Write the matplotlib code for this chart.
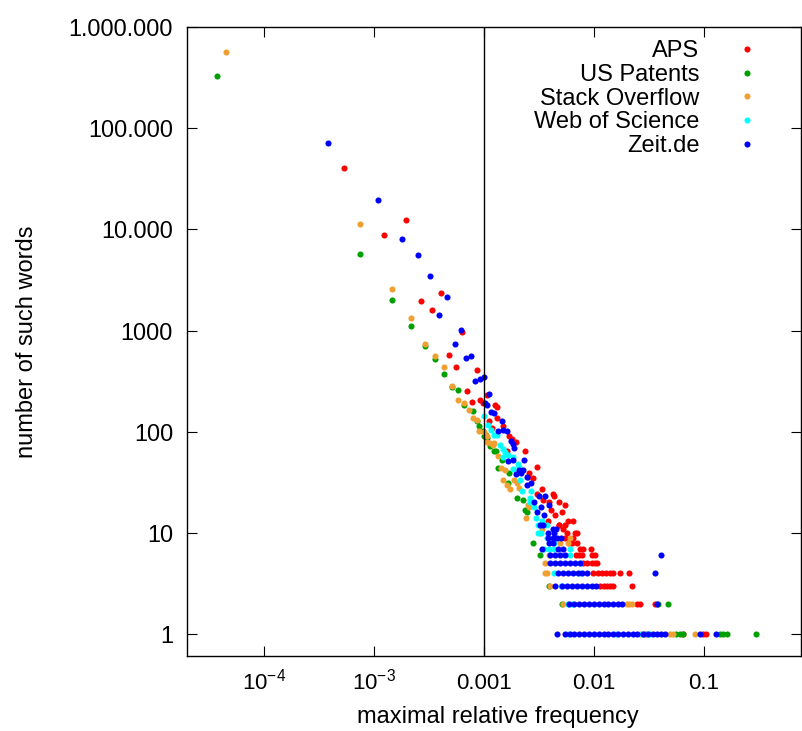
import matplotlib
matplotlib.use('Agg')
import matplotlib.pyplot as plt
from matplotlib.ticker import FixedLocator, FixedFormatter, NullLocator

plt.rcParams['font.family'] = ['Liberation Sans', 'DejaVu Sans']
plt.rcParams['mathtext.fontset'] = 'custom'
plt.rcParams['mathtext.rm'] = 'Liberation Sans'
plt.rcParams['mathtext.it'] = 'Liberation Sans:italic'

# word counts above ~10: single (frequency, count) points
aps_freq = [5.3e-5, 1.24e-4, 1.94e-4, 2.66e-4, 3.37e-4, 4.07e-4, 4.85e-4, 5.59e-4,
            6.35e-4, 7.06e-4, 7.75e-4, 8.55e-4, 9.23e-4, 9.7e-4, 1.07e-3, 1.12e-3,
            1.19e-3, 1.26e-3, 1.30e-3, 1.32e-3, 1.48e-3, 1.62e-3, 1.68e-3, 1.80e-3,
            1.95e-3, 2.37e-3, 2.53e-3, 2.58e-3, 2.81e-3, 3.01e-3, 3.05e-3, 3.36e-3,
            3.45e-3, 3.88e-3, 4.10e-3, 4.26e-3, 4.36e-3, 4.42e-3, 4.77e-3, 5.41e-3,
            5.11e-3, 3.80e-3, 4.84e-3, 5.81e-3, 6.40e-3]
aps_count = [40600, 8830, 12500, 1980, 1590, 2330, 574, 435,
             968, 254, 198, 406, 204, 194, 230, 128,
             109, 182, 174, 137, 115, 65, 90, 84,
             79, 64, 36, 39, 35, 45, 24, 27,
             21, 20, 17, 24, 23, 15, 20, 19,
             16, 13, 12, 13, 13]

pat_freq = [3.72e-6, 7.5e-5, 1.46e-4, 2.18e-4, 2.89e-4, 3.62e-4, 4.36e-4, 5.07e-4,
            5.79e-4, 6.58e-4, 7.9e-4, 8.6e-4, 9.1e-4, 9.73e-4, 1.0e-3, 1.05e-3,
            1.07e-3, 1.13e-3, 1.23e-3, 1.29e-3, 1.35e-3, 1.47e-3, 1.64e-3, 1.69e-3,
            1.98e-3, 2.27e-3, 2.34e-3, 2.45e-3]
pat_count = [327000, 5690, 2010, 1105, 706, 523, 372, 277,
             258, 182, 160, 127, 114, 101, 90, 92,
             87, 72, 65, 65, 44, 52, 31, 39,
             22, 21, 17, 16]

so_freq = [4.54e-6, 7.5e-5, 1.47e-4, 2.18e-4, 2.89e-4, 3.62e-4, 4.36e-4, 5.07e-4,
           5.83e-4, 6.58e-4, 7.3e-4, 7.9e-4, 8.6e-4, 9.1e-4, 9.9e-4, 1.06e-3,
           1.07e-3, 1.13e-3, 1.20e-3, 1.23e-3, 1.35e-3, 1.42e-3, 1.50e-3, 1.55e-3,
           1.63e-3, 1.72e-3, 1.86e-3, 1.98e-3, 2.09e-3, 2.41e-3, 2.53e-3, 2.58e-3]
so_count = [568000, 11300, 2580, 1327, 741, 556, 432, 282,
            207, 194, 165, 138, 132, 102, 100, 90,
            80, 77, 74, 78, 58, 44, 33, 42,
            30, 27, 33, 31, 28, 14, 19, 18]

wos_freq = [1.0e-3, 1.09e-3, 1.16e-3, 1.23e-3, 1.32e-3, 1.39e-3, 1.48e-3, 1.55e-3,
            1.50e-3, 1.64e-3, 1.82e-3, 2.02e-3, 1.84e-3, 2.08e-3, 2.14e-3, 2.20e-3,
            2.67e-3, 2.60e-3, 2.63e-3, 2.83e-3, 2.95e-3, 3.35e-3, 3.77e-3, 3.12e-3]
wos_count = [143, 117, 104, 93, 92, 74, 68, 63,
             56, 59, 56, 48, 43, 45, 33, 26,
             26, 22, 20, 18, 14, 13, 12, 10]

zeit_freq = [3.82e-5, 1.09e-4, 1.80e-4, 2.51e-4, 3.23e-4, 3.92e-4, 4.61e-4, 5.43e-4,
             6.18e-4, 6.9e-4, 7.6e-4, 8.37e-4, 9.12e-4, 9.9e-4, 1.03e-3, 1.06e-3,
             1.10e-3, 1.16e-3, 1.24e-3, 1.45e-3, 1.35e-3, 1.49e-3, 1.61e-3, 1.75e-3,
             1.84e-3, 1.89e-3, 1.66e-3, 1.83e-3, 2.31e-3, 2.09e-3, 2.18e-3, 2.26e-3,
             1.95e-3, 2.47e-3, 2.67e-3, 2.47e-3, 2.86e-3, 3.05e-3, 3.18e-3, 3.30e-3,
             3.52e-3, 3.58e-3, 3.90e-3, 3.20e-3, 3.45e-3, 4.26e-3, 4.49e-3]
zeit_count = [71100, 19300, 8050, 5600, 3425, 1420, 2150, 734,
              1009, 535, 565, 317, 335, 345, 191, 182,
              234, 158, 152, 129, 102, 104, 102, 81,
              76, 69, 51, 52, 52, 42, 39, 42,
              38, 36, 31, 30, 20, 16, 23, 18,
              15, 23, 19, 12, 12, 11, 11]

# small word counts: count -> frequencies that share it
aps_rows = {1: [0.029, 0.064, 0.097, 0.105],
            2: [0.0245, 0.026, 0.036],
            3: [0.0113, 0.0122, 0.013, 0.014, 0.0148, 0.022],
            4: [0.0098, 0.0108, 0.0118, 0.0128, 0.014, 0.0148, 0.0172, 0.021],
            5: [0.0079, 0.0087, 0.0095, 0.0103, 0.0106],
            6: [0.0069, 0.0073, 0.0077, 0.0095, 0.0102],
            7: [0.0074, 0.0079, 0.0094],
            8: [0.0059, 0.0063, 0.0070],
            9: [0.0055, 0.0065],
            10: [0.0057, 0.0067, 0.0070],
            11: [0.0052],
            12: [0.0048, 0.0055]}
pat_rows = {1: [0.056, 0.060, 0.065, 0.14, 0.15, 0.16, 0.295],
            2: [0.0051, 0.038, 0.047],
            3: [0.0039],
            6: [0.0032],
            8: [0.0028]}
so_rows = {1: [0.026, 0.049, 0.052, 0.083],
           2: [0.0052, 0.020, 0.021, 0.022],
           3: [0.0040],
           4: [0.0036, 0.0037],
           5: [0.0036],
           6: [0.0039],
           8: [0.0049, 0.0058],
           9: [0.0060],
           10: [0.0032],
           11: [0.0034]}
wos_rows = {1: [0.0058, 0.016, 0.027, 0.030, 0.032],
            2: [0.0058, 0.0063],
            3: [0.0050],
            4: [0.0043, 0.0075],
            5: [0.0074],
            6: [0.0060],
            7: [0.0035, 0.0039, 0.0043, 0.0060],
            8: [0.0043],
            9: [0.0037],
            10: [0.0033],
            12: [0.0031, 0.0033]}
zeit_rows = {1: [0.0046, 0.0054, 0.0060, 0.0066, 0.0073, 0.0081, 0.0090, 0.0100,
                 0.0110, 0.0122, 0.0135, 0.0150, 0.0166, 0.0184, 0.0204, 0.0226,
                 0.0245, 0.028, 0.031, 0.034, 0.037, 0.041, 0.044, 0.092, 0.128],
             2: [0.0059, 0.0066, 0.0073, 0.0081, 0.0090, 0.0100, 0.0110, 0.0122,
                 0.0135, 0.0150, 0.0166, 0.0180, 0.037],
             3: [0.0044, 0.0051, 0.0057, 0.0063, 0.0070, 0.0078, 0.0086, 0.0095, 0.0105],
             4: [0.0047, 0.0052, 0.0058, 0.0064, 0.0071, 0.0078, 0.0086, 0.0358],
             5: [0.0040, 0.0044, 0.0049, 0.0055, 0.0061, 0.0067, 0.0075],
             6: [0.0040, 0.0044, 0.0049, 0.0055, 0.0405],
             7: [0.0034, 0.0047, 0.0052],
             8: [0.0039, 0.0042],
             9: [0.0038, 0.0042, 0.0046, 0.0050],
             10: [0.0038, 0.0043]}

names = ['APS', 'US Patents', 'Stack Overflow', 'Web of Science', 'Zeit.de']
colors = ['#ff0000', '#00a000', '#f0a030', '#00ffff', '#0000ff']

xtick_vals = [1e-5, 1e-4, 1e-3, 1e-2, 1e-1]
xtick_text = ['$10^{-4}$', '$10^{-3}$', '0.001', '0.01', '0.1']
ytick_vals = [1, 10, 100, 1000, 1e4, 1e5, 1e6]
ytick_text = ['1', '10', '100', '1000', '10.000', '100.000', '1.000.000']


def expand(freq, count, rows):
    xs = list(freq)
    ys = list(count)
    for n, fs in rows.items():
        xs += fs
        ys += [n] * len(fs)
    return xs, ys


def main():
    series = [(aps_freq, aps_count, aps_rows),
              (pat_freq, pat_count, pat_rows),
              (so_freq, so_count, so_rows),
              (wos_freq, wos_count, wos_rows),
              (zeit_freq, zeit_count, zeit_rows)]

    fig = plt.figure(figsize=(8.02, 7.31), dpi=100)
    ax = fig.add_axes([187 / 802, 1 - 656 / 731, 614 / 802, 629 / 731])
    ax.set_xscale('log')
    ax.set_yscale('log')

    for (f, c, r), name, col in zip(series, names, colors):
        xs, ys = expand(f, c, r)
        ax.plot(xs, ys, 'o', ls='none', ms=4.4, mew=0, color=col, label=name)

    ax.axvline(1e-3, color='black', lw=1.0)

    ax.set_xlim(2e-6, 0.76)
    ax.set_ylim(0.607, 1e6)
    ax.xaxis.set_major_locator(FixedLocator(xtick_vals))
    ax.xaxis.set_major_formatter(FixedFormatter(xtick_text))
    ax.yaxis.set_major_locator(FixedLocator(ytick_vals))
    ax.yaxis.set_major_formatter(FixedFormatter(ytick_text))
    ax.xaxis.set_minor_locator(NullLocator())
    ax.yaxis.set_minor_locator(NullLocator())
    ax.tick_params(which='both', direction='in', top=True, right=True,
                   length=7, width=0.8, labelsize=16)
    ax.tick_params(axis='y', pad=10, labelsize=16.8)
    ax.tick_params(axis='x', pad=24)
    plt.setp(ax.get_xticklabels(), va='baseline')
    for sp in ax.spines.values():
        sp.set_linewidth(1.0)

    ax.set_xlabel('maximal relative frequency', fontsize=17)
    ax.set_ylabel('number of such words', fontsize=17)
    ax.xaxis.set_label_coords(0.506, -0.080)
    ax.yaxis.set_label_coords(-0.2425, 0.5)

    # gnuplot-style key: labels right-aligned, symbols on the right
    ax.legend(loc='upper right', bbox_to_anchor=(0.95, 0.979), frameon=False,
              markerfirst=False, fontsize=17, handlelength=2.0,
              handletextpad=1.0, labelspacing=0.07, borderpad=0,
              borderaxespad=0)

    fig.savefig('out.png', dpi=100)


if __name__ == '__main__':
    main()
